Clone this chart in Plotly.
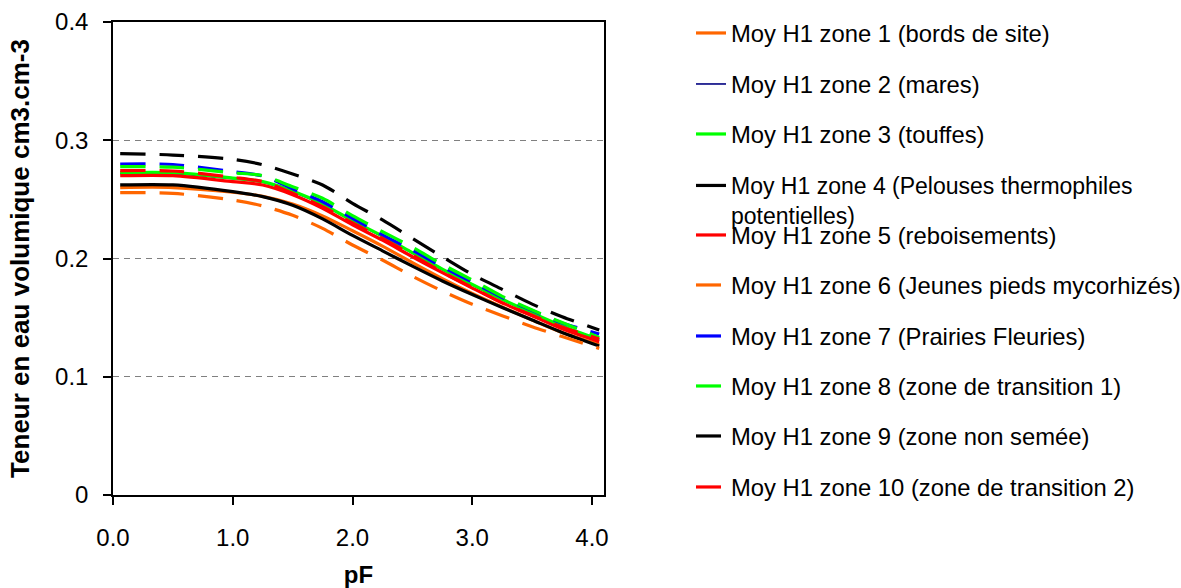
import plotly.graph_objects as go

pF = [0.06, 0.5, 1.0, 1.25, 1.5, 1.75, 2.0, 2.25, 2.5, 2.75, 3.0, 3.25, 3.5, 3.75, 4.06]

zone1 = [0.2600, 0.2600, 0.2560, 0.2525, 0.2460, 0.2360, 0.2235, 0.2105, 0.1965, 0.1830, 0.1705, 0.1590, 0.1480, 0.1375, 0.1275]
zone2 = [0.2720, 0.2718, 0.2675, 0.2645, 0.2565, 0.2455, 0.2315, 0.2185, 0.2045, 0.1905, 0.1775, 0.1650, 0.1535, 0.1425, 0.1310]
zone3 = [0.2726, 0.2726, 0.2680, 0.2650, 0.2570, 0.2460, 0.2320, 0.2190, 0.2050, 0.1910, 0.1780, 0.1655, 0.1540, 0.1430, 0.1315]
zone4 = [0.2622, 0.2622, 0.2565, 0.2523, 0.2450, 0.2335, 0.2195, 0.2065, 0.1935, 0.1810, 0.1695, 0.1585, 0.1480, 0.1375, 0.1260]
zone5 = [0.2700, 0.2700, 0.2650, 0.2622, 0.2540, 0.2425, 0.2285, 0.2155, 0.2015, 0.1880, 0.1750, 0.1625, 0.1515, 0.1405, 0.1297]
zone6 = [0.2557, 0.2551, 0.2495, 0.2444, 0.2365, 0.2255, 0.2114, 0.1987, 0.1850, 0.1725, 0.1613, 0.1516, 0.1423, 0.1340, 0.1240]
zone7 = [0.2799, 0.2795, 0.2734, 0.2698, 0.2590, 0.2480, 0.2340, 0.2200, 0.2070, 0.1930, 0.1800, 0.1670, 0.1560, 0.1455, 0.1362]
zone8 = [0.2777, 0.2772, 0.2725, 0.2700, 0.2607, 0.2509, 0.2362, 0.2227, 0.2095, 0.1950, 0.1818, 0.1680, 0.1564, 0.1458, 0.1333]
zone9 = [0.2887, 0.2875, 0.2839, 0.2793, 0.2715, 0.2622, 0.2467, 0.2326, 0.2170, 0.2015, 0.1865, 0.1739, 0.1614, 0.1508, 0.1395]
zone10 = [0.2743, 0.2740, 0.2687, 0.2650, 0.2551, 0.2438, 0.2300, 0.2170, 0.2030, 0.1885, 0.1755, 0.1625, 0.1520, 0.1420, 0.1320]

names = [
    "Moy H1 zone 1 (bords de site)",
    "Moy H1 zone 2 (mares)",
    "Moy H1 zone 3 (touffes)",
    "Moy H1 zone 4 (Pelouses thermophiles<br>potentielles)",
    "Moy H1 zone 5 (reboisements)",
    "Moy H1 zone 6 (Jeunes pieds mycorhizés)",
    "Moy H1 zone 7 (Prairies Fleuries)",
    "Moy H1 zone 8 (zone de transition 1)",
    "Moy H1 zone 9 (zone non semée)",
    "Moy H1 zone 10 (zone de transition 2)",
]
series = [zone1, zone2, zone3, zone4, zone5, zone6, zone7, zone8, zone9, zone10]
colors = ["#FF6600", "#000080", "#00FF00", "#000000", "#FF0000",
          "#FF6600", "#0000FF", "#00FF00", "#000000", "#FF0000"]
dashes = ["solid"] * 5 + ["25px,14px"] * 5
widths = [3.2, 1.6, 3.2, 3.2, 3.2, 3.2, 3.2, 3.2, 3.2, 3.2]

y_ticks = [0, 0.1, 0.2, 0.3, 0.4]
y_ticktext = ["0", "0.1", "0.2", "0.3", "0.4"]
x_ticks = [0, 1, 2, 3, 4]
x_ticktext = ["0.0", "1.0", "2.0", "3.0", "4.0"]

FONT = "Liberation Sans, Arial, sans-serif"
W, H = 1181, 588
legend_rows = [33, 84, 134, 185, 235, 285, 336, 386, 436, 487]

fig = go.Figure()
layout_legends = {}
for i, (nm, ys, c, d, w) in enumerate(zip(names, series, colors, dashes, widths)):
    key = "legend" if i == 0 else f"legend{i+1}"
    fig.add_trace(go.Scatter(
        x=pF, y=ys, mode="lines", name=nm,
        line=dict(color=c, width=w, dash=d, shape="spline", smoothing=0.8),
        legend=key, showlegend=True,
    ))
    row = legend_rows[i]
    fsize = 23.8
    if i == 3:
        fsize = 23
        leg = dict(x=691 / W, y=1 - (row - 21) / H, xanchor="left", yanchor="top",
                   valign="top")
    else:
        leg = dict(x=691 / W, y=1 - row / H, xanchor="left", yanchor="middle")
    leg.update(xref="container", yref="container", bgcolor="rgba(0,0,0,0)",
               borderwidth=0, font=dict(family=FONT, size=fsize, color="#000000"),
               tracegroupgap=0)
    layout_legends[key] = leg

fig.update_layout(
    width=W, height=H,
    margin=dict(l=113, r=W - 604, t=22, b=H - 495, autoexpand=False),
    paper_bgcolor="white", plot_bgcolor="white",
    font=dict(family=FONT, size=23, color="#000000"),
    **layout_legends,
)
fig.update_xaxes(
    range=[0, 4.1], tickvals=x_ticks, ticktext=x_ticktext, automargin=False,
    showgrid=False, zeroline=False,
    showline=True, linecolor="black", linewidth=1.5, mirror=True,
    ticks="outside", ticklen=8, tickcolor="black", tickwidth=1.5,
    ticklabelstandoff=12,
    tickfont=dict(family=FONT, size=24),
    title=dict(text="<b>pF</b>", font=dict(family=FONT, size=24), standoff=19),
)
fig.update_yaxes(
    range=[0, 0.4], tickvals=y_ticks, ticktext=y_ticktext, automargin=False,
    showgrid=True, gridcolor="#808080", griddash="6px,5px", gridwidth=1,
    zeroline=False,
    showline=True, linecolor="black", linewidth=1.5, mirror=True,
    ticks="outside", ticklen=8, tickcolor="black", tickwidth=1.5,
    ticklabelstandoff=10,
    tickfont=dict(family=FONT, size=24),
    title=dict(text="<b>Teneur en eau volumique cm3.cm-3</b>", font=dict(family=FONT, size=26), standoff=18),
)

fig.write_html("out.html", config={"displayModeBar": False},
               post_script="document.body.style.margin='0';")
